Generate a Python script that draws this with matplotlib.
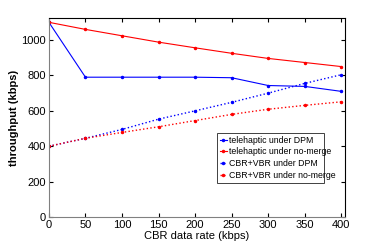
import matplotlib
matplotlib.use("Agg")
import matplotlib.pyplot as plt

rates = [0, 50, 100, 150, 200, 250, 300, 350, 400]
tele_dpm = [1100, 790, 790, 790, 790, 787, 743, 738, 710]
tele_nomerge = [1100, 1060, 1024, 988, 956, 925, 896, 873, 850]
cbr_dpm = [400, 445, 495, 553, 600, 648, 700, 755, 804]
cbr_nomerge = [400, 445, 478, 510, 545, 580, 609, 631, 651]
labels = ["telehaptic under DPM", "telehaptic under no-merge",
          "CBR+VBR under DPM", "CBR+VBR under no-merge"]
xticks = [0, 50, 100, 150, 200, 250, 300, 350, 400]
yticks = [0, 200, 400, 600, 800, 1000]

plt.rcParams['font.family'] = ['Liberation Sans', 'DejaVu Sans']

fig = plt.figure(figsize=(3.82, 2.45), dpi=100)
ax = fig.add_axes([0.128, 0.114, 0.775, 0.813])

ax.plot(rates, tele_dpm, '-', color='#0000ff', lw=0.8, marker='.', ms=3, label=labels[0])
ax.plot(rates, tele_nomerge, '-', color='#ff0000', lw=0.8, marker='.', ms=3, label=labels[1])
ax.plot(rates, cbr_dpm, ':', color='#0000ff', lw=1.0, marker='.', ms=3, label=labels[2])
ax.plot(rates, cbr_nomerge, ':', color='#ff0000', lw=1.0, marker='.', ms=3, label=labels[3])

ax.set_xlim(0, 405)
ax.set_ylim(0, 1125)
ax.set_xticks(xticks)
ax.set_yticks(yticks)
ax.tick_params(direction='in', top=True, right=True, labelsize=8, length=3, pad=2)
for s in ax.spines.values():
    s.set_linewidth(0.8)
ax.spines['left'].set_color('#808080')
ax.spines['bottom'].set_color('#808080')

ax.set_xlabel("CBR data rate (kbps)", fontsize=8, labelpad=1)
ax.set_ylabel("throughput (kbps)", fontsize=8, fontweight='bold', labelpad=2)

leg = ax.legend(loc='lower left', bbox_to_anchor=(0.567, 0.172, 0.363, 0.248),
                mode='expand', fontsize=6.3, handlelength=0.8, handletextpad=0.3,
                borderpad=0.35, labelspacing=0.3, fancybox=False, framealpha=1,
                borderaxespad=0)
leg.get_frame().set_edgecolor('#404040')
leg.get_frame().set_linewidth(0.7)

fig.savefig("out.png", dpi=100)
